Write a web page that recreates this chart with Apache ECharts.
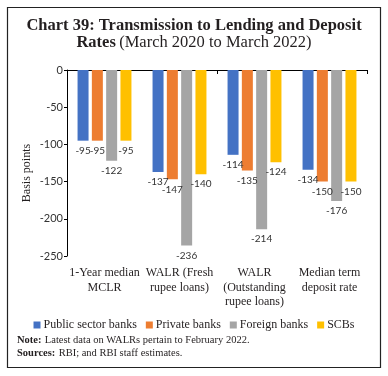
<!DOCTYPE html>
<html>
<head>
<meta charset="utf-8">
<script src="https://cdn.jsdelivr.net/npm/echarts@6/dist/echarts.min.js"></script>
<style>
  html, body { margin: 0; padding: 0; background: #fff; }
  #chart { width: 388px; height: 376px; }
</style>
</head>
<body>
<div id="chart"></div>
<script>
// categories and values (basis points)
var categories = ['1-Year median\nMCLR', 'WALR (Fresh\nrupee loans)', 'WALR\n(Outstanding\nrupee loans)', 'Median term\ndeposit rate']
var seriesNames = ['Public sector banks', 'Private banks', 'Foreign banks', 'SCBs']
var publicBanks = [-95, -137, -114, -134]
var privateBanks = [-95, -147, -135, -150]
var foreignBanks = [-122, -236, -214, -176]
var scbs = [-95, -140, -124, -150]
var colors = ['#4472C4', '#ED7D31', '#A5A5A5', '#FFC000']

var serif = 'Liberation Serif'
var sans = 'Lato'
var textColor = '#231f20'

var myChart = echarts.init(document.getElementById('chart'))

function barSeries (name, data, i) {
  return {
    name: name,
    type: 'bar',
    barWidth: 11,
    barGap: '30%',
    xAxisIndex: 0,
    data: data,
    itemStyle: { color: colors[i] },
    label: {
      show: true,
      position: 'bottom',
      distance: 5,
      fontFamily: sans,
      fontSize: 10,
      color: '#333'
    }
  }
}

var option = {
  animation: false,
  color: colors,
  graphic: [
    {
      type: 'rect',
      shape: { x: 7.5, y: 7.5, width: 373, height: 360 },
      style: { fill: 'none', stroke: '#222', lineWidth: 1.2 }
    },
    {
      type: 'text',
      x: 194,
      y: 26,
      style: {
        text: 'Chart 39: Transmission to Lending and Deposit',
        font: 'bold 16.5px ' + serif,
        fill: textColor,
        align: 'center',
        verticalAlign: 'middle'
      }
    },
    {
      type: 'text',
      x: 194,
      y: 43,
      style: {
        text: '{b|Rates} {r|(March 2020 to March 2022)}',
        align: 'center',
        verticalAlign: 'middle',
        rich: {
          b: { font: 'bold 16.5px ' + serif, fill: textColor },
          r: { font: '16.5px ' + serif, fill: textColor }
        }
      }
    },
    {
      type: 'text',
      x: 27,
      y: 173,
      rotation: Math.PI / 2,
      style: {
        text: 'Basis points',
        font: '12px ' + serif,
        fill: textColor,
        align: 'center',
        verticalAlign: 'middle'
      }
    },
    {
      type: 'text',
      x: 17,
      y: 340,
      style: {
        text: '{b|Note:} {r|Latest data on WALRs pertain to February 2022.}',
        verticalAlign: 'middle',
        rich: {
          b: { font: 'bold 10.5px ' + serif, fill: textColor },
          r: { font: '10.5px ' + serif, fill: textColor }
        }
      }
    },
    {
      type: 'text',
      x: 17,
      y: 353,
      style: {
        text: '{b|Sources:} {r|RBI; and RBI staff estimates.}',
        verticalAlign: 'middle',
        rich: {
          b: { font: 'bold 10.5px ' + serif, fill: textColor },
          r: { font: '10.5px ' + serif, fill: textColor }
        }
      }
    }
  ],
  grid: {
    left: 67,
    right: 21,
    top: 70,
    bottom: 120
  },
  legend: {
    top: 314,
    left: 'center',
    itemWidth: 7,
    itemHeight: 7,
    itemGap: 9,
    icon: 'rect',
    textStyle: {
      fontFamily: serif,
      fontSize: 12,
      color: textColor,
      padding: [0, 0, 0, -2]
    },
    data: seriesNames
  },
  xAxis: [
    {
      type: 'category',
      position: 'top',
      data: categories,
      axisLine: { lineStyle: { color: '#000', width: 1 } },
      axisTick: { show: true, inside: true, length: 4, lineStyle: { color: '#000' } },
      axisLabel: { show: false },
      splitLine: { show: false }
    },
    {
      type: 'category',
      position: 'bottom',
      data: categories,
      axisLine: { show: false, onZero: false },
      axisTick: { show: false },
      axisLabel: {
        interval: 0,
        margin: 10,
        fontFamily: serif,
        fontSize: 12,
        lineHeight: 14.5,
        color: textColor,
        verticalAlign: 'top'
      }
    }
  ],
  yAxis: {
    type: 'value',
    min: -250,
    max: 0,
    interval: 50,
    axisLine: { show: true, lineStyle: { color: '#000', width: 1 } },
    axisTick: { show: true, length: 3, lineStyle: { color: '#000' } },
    axisLabel: {
      margin: 4,
      fontFamily: sans,
      fontSize: 11,
      color: '#333'
    },
    splitLine: { show: false }
  },
  series: [
    barSeries(seriesNames[0], publicBanks, 0),
    barSeries(seriesNames[1], privateBanks, 1),
    barSeries(seriesNames[2], foreignBanks, 2),
    barSeries(seriesNames[3], scbs, 3)
  ]
}
myChart.setOption(option)
</script>
</body>
</html>
